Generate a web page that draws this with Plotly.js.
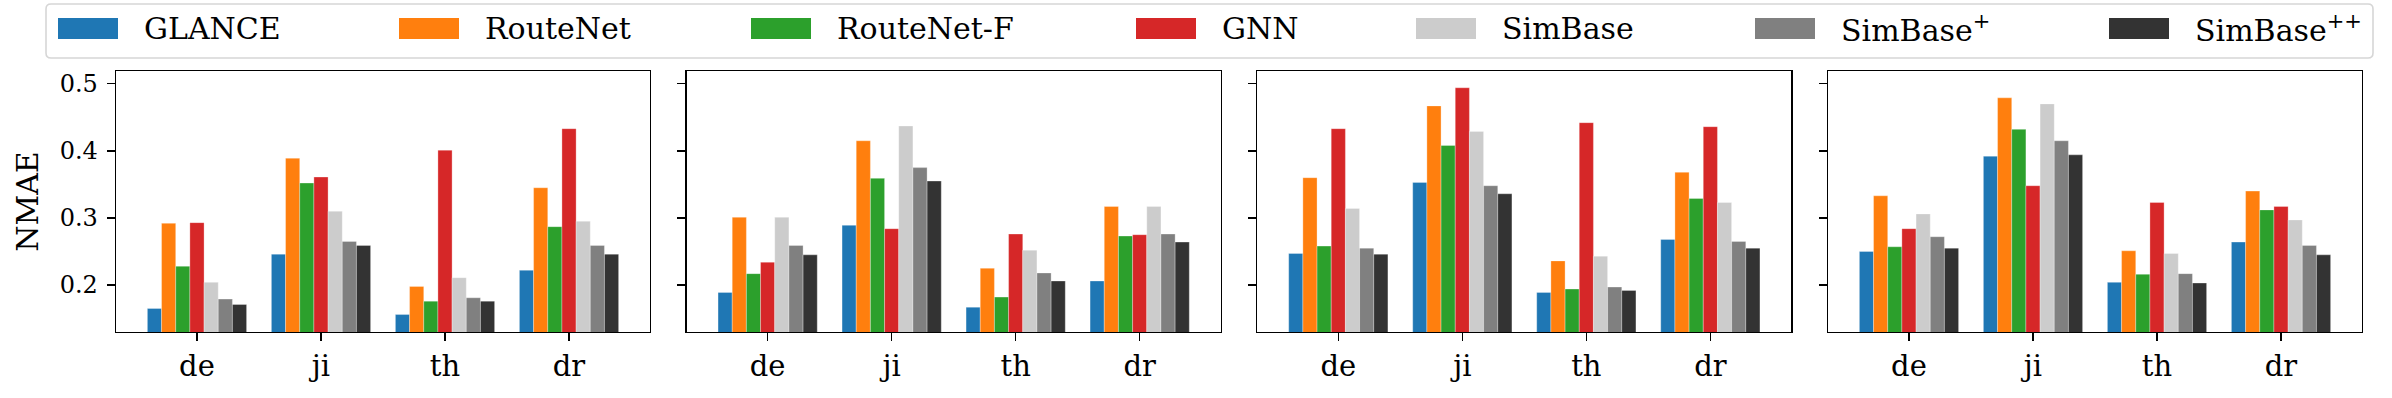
<!DOCTYPE html>
<html>
<head>
<meta charset="utf-8">
<script src="https://cdn.plot.ly/plotly-3.0.1.min.js"></script>
<style>html,body{margin:0;padding:0;background:#fff;}</style>
</head>
<body>
<div id="chart" style="width:2392px;height:398px;"></div>
<script>
// ---- data ----
const categories = ['de', 'ji', 'th', 'dr'];
const seriesNames = ['GLANCE', 'RouteNet', 'RouteNet-F', 'GNN', 'SimBase', 'SimBase<sup>+</sup>', 'SimBase<sup>++</sup>'];
// each array: one row per panel (4 panels), values for de, ji, th, dr
const glance    = [[0.165, 0.246, 0.156, 0.222], [0.189, 0.289, 0.167, 0.206], [0.247, 0.353, 0.189, 0.268], [0.250, 0.392, 0.204, 0.264]];
const routeNet  = [[0.292, 0.389, 0.198, 0.345], [0.301, 0.415, 0.225, 0.317], [0.360, 0.467, 0.236, 0.368], [0.333, 0.479, 0.251, 0.340]];
const routeNetF = [[0.228, 0.352, 0.176, 0.287], [0.217, 0.359, 0.182, 0.273], [0.258, 0.408, 0.194, 0.329], [0.257, 0.432, 0.216, 0.312]];
const gnn       = [[0.293, 0.361, 0.401, 0.433], [0.234, 0.284, 0.276, 0.275], [0.433, 0.494, 0.442, 0.436], [0.284, 0.348, 0.323, 0.317]];
const simBase   = [[0.204, 0.310, 0.211, 0.295], [0.301, 0.437, 0.252, 0.317], [0.314, 0.429, 0.243, 0.323], [0.306, 0.470, 0.247, 0.297]];
const simBaseP  = [[0.179, 0.265, 0.181, 0.259], [0.259, 0.375, 0.218, 0.276], [0.255, 0.348, 0.197, 0.265], [0.272, 0.415, 0.217, 0.259]];
const simBasePP = [[0.171, 0.259, 0.176, 0.246], [0.245, 0.355, 0.206, 0.264], [0.246, 0.336, 0.192, 0.255], [0.255, 0.394, 0.203, 0.245]];
const yTickVals = [0.2, 0.3, 0.4, 0.5];
const yTickText = ['0.2', '0.3', '0.4', '0.5'];
const yTitle = 'NMAE';

// ---- styling ----
const allSeries = [glance, routeNet, routeNetF, gnn, simBase, simBaseP, simBasePP];
const colors = ['#1f77b4', '#ff7f0e', '#2ca02c', '#d62728', '#cccccc', '#808080', '#333333'];
const FONT = 'DejaVu Serif';
const W = 2392, H = 398;
const L = 116, R = 30, T = 71, B = 66;
const pw = W - L - R, ph = H - T - B;
const px2x = p => (p - L) / pw;
const py2y = p => (H - B - p) / ph;
const panelLeft = [116, 686.67, 1257.33, 1828];
const panelW = 534;

const traces = [];
const layout = {
  width: W, height: H,
  margin: {l: L, r: R, t: T, b: B, pad: 0},
  paper_bgcolor: '#fff', plot_bgcolor: '#fff',
  font: {family: FONT, color: '#000'},
  barmode: 'group', bargap: 0.2, bargroupgap: 0,
  showlegend: false,
  shapes: [], annotations: []
};

for (let p = 0; p < 4; p++) {
  const sfx = p === 0 ? '' : String(p + 1);
  allSeries.forEach((s, i) => {
    traces.push({
      type: 'bar', x: categories, y: s[p], name: seriesNames[i],
      xaxis: 'x' + sfx, yaxis: 'y' + sfx,
      marker: {color: colors[i], line: {color: 'rgba(255,255,255,0.6)', width: 0.5}},
      showlegend: false, hoverinfo: 'x+y+name'
    });
  });
  layout['xaxis' + sfx] = {
    domain: [px2x(panelLeft[p]), px2x(panelLeft[p] + panelW)],
    anchor: 'y' + sfx, type: 'category',
    range: [-0.653, 3.653],
    showline: true, mirror: true, linecolor: '#000', linewidth: 1.4,
    ticks: 'outside', ticklen: 8, tickwidth: 1.4, tickcolor: '#000',
    showgrid: false, zeroline: false,
    tickfont: {family: FONT, size: 29, color: '#000'},
    fixedrange: true
  };
  layout['yaxis' + sfx] = {
    domain: [0, 1], anchor: 'x' + sfx,
    range: [0.13, 0.519],
    tickvals: yTickVals, ticktext: yTickText,
    showticklabels: p === 0,
    showline: true, mirror: true, linecolor: '#000', linewidth: 1.4,
    ticks: 'outside', ticklen: 8, tickwidth: 1.4, tickcolor: '#000',
    showgrid: false, zeroline: false,
    ticklabelstandoff: 4,
    tickfont: {family: FONT, size: 24, color: '#000'},
    fixedrange: true
  };
  if (p === 0) {
    layout.yaxis.title = {text: yTitle, font: {family: FONT, size: 30, color: '#000'}, standoff: 12};
  }
}

// ---- legend (drawn as swatches + text) ----
const legBox = {x0: 46, x1: 2373, y0: 4, y1: 58, r: 5};
const bx0 = px2x(legBox.x0), bx1 = px2x(legBox.x1), by0 = py2y(legBox.y1), by1 = py2y(legBox.y0);
const rx = legBox.r / pw, ry = legBox.r / ph;
layout.shapes.push({
  type: 'path', xref: 'paper', yref: 'paper',
  path: `M ${bx0 + rx},${by1} L ${bx1 - rx},${by1} Q ${bx1},${by1} ${bx1},${by1 - ry} L ${bx1},${by0 + ry} Q ${bx1},${by0} ${bx1 - rx},${by0} L ${bx0 + rx},${by0} Q ${bx0},${by0} ${bx0},${by0 + ry} L ${bx0},${by1 - ry} Q ${bx0},${by1} ${bx0 + rx},${by1} Z`,
  line: {color: '#d6d6d6', width: 1.6}, fillcolor: 'rgba(255,255,255,0.8)', layer: 'above'
});
const swatchX = [58, 399, 751, 1136, 1416, 1755, 2109];
seriesNames.forEach((n, i) => {
  layout.shapes.push({
    type: 'rect', xref: 'paper', yref: 'paper',
    x0: px2x(swatchX[i]), x1: px2x(swatchX[i] + 60),
    y0: py2y(39), y1: py2y(18),
    fillcolor: colors[i], line: {width: 0}, layer: 'above'
  });
  layout.annotations.push({
    xref: 'paper', yref: 'paper',
    x: px2x(swatchX[i] + 86 - 2), y: py2y(28.5),
    xanchor: 'left', yanchor: 'middle',
    text: n, showarrow: false,
    font: {family: FONT, size: 30, color: '#000'}
  });
});

Plotly.newPlot('chart', traces, layout, {displayModeBar: false, staticPlot: true});
</script>
</body>
</html>
